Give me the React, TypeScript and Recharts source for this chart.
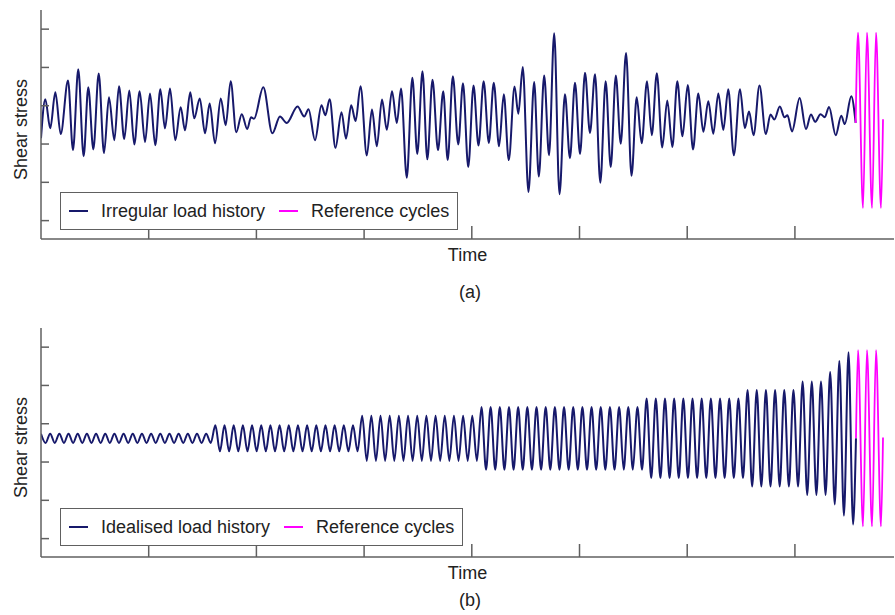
import React from "react";
import { LineChart, Line, XAxis, YAxis, Legend, Label } from "recharts";

// (a) turning points of the irregular record
const irregularTime = [
  0, 4.0, 8.6, 13.3, 18.3, 25.1, 29.7, 34.6, 39.6, 43.9,
  48.6, 53.6, 58.5, 63.1, 68.1, 72.4, 77.3, 82.0, 86.6, 91.6,
  96.6, 101.2, 106.1, 110.8, 115.1, 119.8, 124.7, 129.7, 133.7, 138.6,
  142.3, 147.4, 152.3, 156.6, 161.6, 166.9, 171.5, 176.1, 181.3, 186.4,
  191.5, 195.0, 197.8, 206.4, 214.8, 221.9, 228.1, 238.2, 244.4, 248.4,
  254.4, 260.4, 264.0, 268.0, 273.4, 279.0, 283.2, 288.0, 292.1, 296.7,
  302.5, 307.3, 311.8, 316.6, 321.1, 325.9, 330.4, 334.3, 339.6, 344.8,
  349.4, 354.2, 358.7, 363.5, 368.6, 373.5, 377.6, 382.4, 387.4, 391.8,
  396.7, 401.6, 406.2, 411.0, 415.8, 420.4, 425.3, 429.7, 434.3, 439.7,
  443.2, 447.3, 452.6, 457.9, 462.2, 467.2, 471.7, 476.5, 481.4, 486.5,
  491.1, 495.8, 500.5, 505.1, 509.7, 514.4, 519.3, 524.3, 529.0, 533.7,
  538.3, 543.2, 548.3, 553.1, 557.7, 562.7, 567.1, 571.8, 576.8, 581.5,
  586.2, 590.8, 595.6, 600.5, 605.4, 610.3, 615.0, 619.6, 624.2, 628.9,
  633.5, 638.1, 643.3, 649.0, 653.5, 657.4, 661.6, 667.1, 673.0, 677.3,
  680.9, 686.0, 690.3, 693.1, 697.3, 704.4, 710.3, 714.9, 718.8, 723.8,
  727.7, 731.7, 737.9, 743.0, 746.3, 752.3, 756.4,
];
const irregularStress = [
  -0.47, 0.55, -0.21, 0.73, -0.36, 1.04, -0.78, 1.33, -0.94, 0.86,
  -0.76, 1.22, -0.86, 0.6, -0.52, 0.89, -0.49, 0.78, -0.63, 0.76,
  -0.57, 0.7, -0.65, 0.81, -0.21, 0.83, -0.52, 0.34, -0.26, 0.73,
  0.05, 0.57, -0.34, 0.44, -0.6, 0.57, -0.13, 1.02, -0.31, 0.16,
  -0.23, 0.08, 0.04, 0.86, -0.34, 0.1, -0.07, 0.36, 0.1, 0.29,
  -0.52, 0.39, 0.13, 0.55, -0.72, 0.21, -0.48, 0.39, -0.02, 0.89,
  -0.92, 0.28, -0.68, 0.54, -0.25, 0.76, -0.07, 0.83, -1.5, 1.11,
  -0.88, 1.28, -1.02, 1.06, -0.78, 0.76, -1.04, 1.15, -0.63, 0.97,
  -1.22, 0.91, -0.66, 1.02, -0.59, 0.98, -0.68, 0.68, -1.04, 0.88,
  0.17, 1.39, -1.87, 1.0, -1.47, 1.17, -0.91, 2.27, -1.93, 0.68,
  -0.99, 0.98, -0.88, 1.24, -0.33, 1.2, -1.63, 1.02, -1.22, 1.17,
  -0.61, 1.76, -1.45, 0.6, -0.6, 1.02, -0.39, 1.23, -0.71, 0.52,
  -0.7, 1.02, -0.42, 0.92, -0.76, 0.7, -0.3, 0.5, -0.35, 0.7,
  -0.25, 0.81, -0.91, 0.81, -0.2, 0.23, -0.39, 0.91, -0.36, 0.15,
  0.02, 0.36, 0.08, 0.13, -0.29, 0.58, -0.23, 0.15, -0.04, 0.16,
  0.08, 0.35, -0.39, 0.12, -0.1, 0.63, -0.07,
];

const refTimeA = [756.4, 758.6, 763.2, 766.9, 771.6, 775.3, 779.9, 781.8];
const refStressA = [-0.07, 2.29, -2.29, 2.29, -2.29, 2.29, -2.29, 0.03];

// (b) idealised history: constant-amplitude blocks of cycles
const blockCycles = [19, 16, 13, 18, 11, 6, 3, 1, 1, 1];
const blockAmplitude = [0.12, 0.34, 0.59, 0.82, 1.04, 1.26, 1.48, 1.73, 2.02, 2.25];
const cyclePeriod = 8.52;
const idealisedEnd = 756.7;

const refTimeB = [756.7, 758.6, 763.2, 766.9, 771.6, 775.3, 779.9, 781.8];
const refStressB = [0, 2.3, -2.3, 2.3, -2.3, 2.3, -2.3, 0.02];

const timeTicks = [100, 200, 300, 400, 500, 600, 700];
const stressTicks = [-2.62, -1.62, -0.62, 0.38, 1.38, 2.38];

const FONT = "'Liberation Sans', Arial, Helvetica, sans-serif";
const NAVY = "#17196b";
const MAGENTA = "#ff00ff";
const AXIS = "#606060";

type Pt = { t: number; s: number };

const zip = (ts: number[], ss: number[]): Pt[] => ts.map((t, i) => ({ t, s: ss[i] }));

const irregularData = zip(irregularTime, irregularStress);
const refDataA = zip(refTimeA, refStressA);
const refDataB = zip(refTimeB, refStressB);

const idealisedData: Pt[] = [];
let cycle = 0;
blockCycles.forEach((n, b) => {
  for (let i = 0; i < n; i++, cycle++) {
    const t0 = cycle * cyclePeriod;
    idealisedData.push({ t: +t0.toFixed(2), s: blockAmplitude[b] });
    idealisedData.push({ t: +(t0 + cyclePeriod / 2).toFixed(2), s: -blockAmplitude[b] });
  }
});
idealisedData.push({ t: idealisedEnd, s: 0 });

// tick marks point into the plot, so draw them as the tick shapes
const TimeTick = (props: any) => (
  <line x1={props.x} y1={props.y} x2={props.x} y2={props.y - 13} stroke={AXIS} strokeWidth={1.5} />
);
const StressTick = (props: any) => (
  <line x1={props.x} y1={props.y} x2={props.x + 8} y2={props.y} stroke={AXIS} strokeWidth={1.5} />
);

const StressLabel = (props: any) => {
  const vb = props.viewBox || { x: 0, y: 10, width: 41, height: 229 };
  const cx = vb.x + 27;
  const cy = vb.y + vb.height / 2 + 5;
  return (
    <text
      x={cx}
      y={cy}
      transform={`rotate(-90 ${cx} ${cy})`}
      textAnchor="middle"
      fontSize={18}
      fill="#222"
      fontFamily={FONT}
    >
      Shear stress
    </text>
  );
};

const LegendBox = (props: any) => {
  const items = props.payload || [];
  return (
    <div
      style={{
        display: "inline-flex",
        alignItems: "center",
        height: 38,
        boxSizing: "border-box",
        padding: "0 8px",
        border: `1.5px solid ${AXIS}`,
        background: "#fff",
        fontFamily: FONT,
        fontSize: 18,
        color: "#222",
        whiteSpace: "nowrap",
      }}
    >
      {items.map((p: any, i: number) => (
        <span
          key={i}
          style={{ display: "inline-flex", alignItems: "center", marginLeft: i ? 14 : 0 }}
        >
          <span style={{ display: "inline-block", width: 19, height: 2, background: p.color, marginRight: 13 }} />
          {p.value}
        </span>
      ))}
    </div>
  );
};

interface PanelProps {
  top: number;
  height: number;
  history: Pt[];
  historyName: string;
  reference: Pt[];
  caption: string;
  captionTop: number;
  legendTop: number;
}

const Panel = ({ top, height, history, historyName, reference, caption, captionTop, legendTop }: PanelProps) => (
  <div style={{ position: "absolute", left: 0, top, width: 895, height }}>
    <LineChart
      width={895}
      height={height}
      margin={{ top: 10, right: 1, bottom: height - 279, left: 0 }}
    >
      <XAxis
        type="number"
        dataKey="t"
        domain={[0, 792]}
        allowDataOverflow
        ticks={timeTicks}
        interval={0}
        tick={<TimeTick />}
        tickSize={0}
        tickMargin={0}
        tickLine={false}
        height={40}
        axisLine={{ stroke: AXIS, strokeWidth: 1.5 }}
      >
        <Label value="Time" position="insideTop" offset={9} fontSize={18} fill="#222" fontFamily={FONT} />
      </XAxis>
      <YAxis
        type="number"
        dataKey="s"
        domain={[-3.1, 2.88]}
        allowDataOverflow
        ticks={stressTicks}
        interval={0}
        tick={<StressTick />}
        tickSize={0}
        tickMargin={0}
        tickLine={false}
        width={41}
        axisLine={{ stroke: AXIS, strokeWidth: 1.5 }}
        label={<StressLabel />}
      />
      <Legend
        layout="horizontal"
        verticalAlign="middle"
        content={<LegendBox />}
        wrapperStyle={{ left: 60, top: legendTop, width: "auto" }}
      />
      <Line
        data={history}
        dataKey="s"
        name={historyName}
        type="monotone"
        stroke={NAVY}
        strokeWidth={2}
        dot={false}
        isAnimationActive={false}
      />
      <Line
        data={reference}
        dataKey="s"
        name="Reference cycles"
        type="monotone"
        stroke={MAGENTA}
        strokeWidth={1.8}
        dot={false}
        isAnimationActive={false}
      />
    </LineChart>
    <div
      style={{
        position: "absolute",
        left: 420,
        width: 100,
        top: captionTop,
        height: 22,
        lineHeight: "22px",
        textAlign: "center",
        fontFamily: FONT,
        fontSize: 18,
        color: "#222",
      }}
    >
      {caption}
    </div>
  </div>
);

export default function App() {
  return (
    <div
      style={{
        position: "absolute",
        left: 0,
        top: 0,
        width: 895,
        height: 615,
        background: "#fff",
        overflow: "hidden",
      }}
    >
      <Panel
        top={0}
        height={310}
        history={irregularData}
        historyName="Irregular load history"
        reference={refDataA}
        caption="(a)"
        captionTop={281}
        legendTop={192}
      />
      <Panel
        top={318}
        height={297}
        history={idealisedData}
        historyName="Idealised load history"
        reference={refDataB}
        caption="(b)"
        captionTop={271}
        legendTop={190}
      />
    </div>
  );
}
